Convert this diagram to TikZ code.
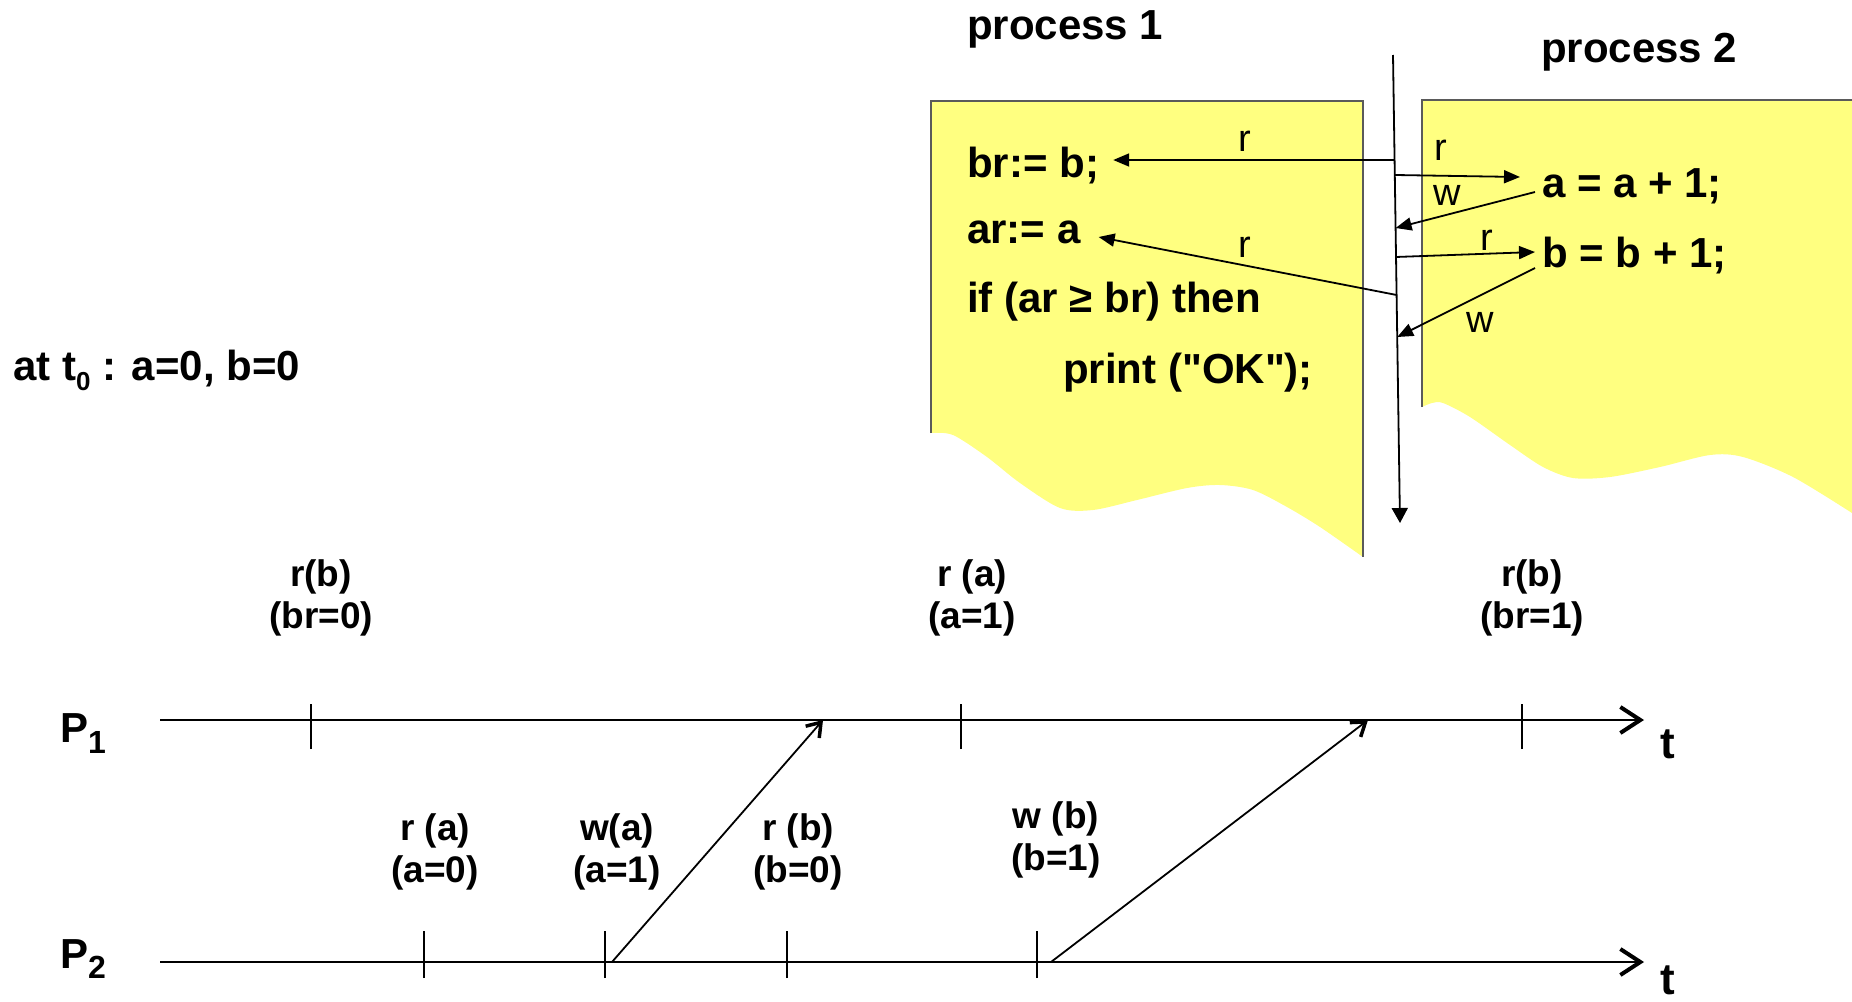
\documentclass[tikz,border=0pt]{standalone}
\usepackage{fontspec}
\setmainfont{Liberation Sans}[Ligatures=TeXOff]
\usetikzlibrary{arrows.meta,calc}

\definecolor{memo}{RGB}{255,255,128}
\definecolor{edgegrey}{RGB}{90,90,90}

\begin{document}
\begin{tikzpicture}[x=1pt,y=-1pt,
  code/.style={font=\fontsize{42}{50}\selectfont\bfseries, anchor=base west, inner sep=0pt},
  acc/.style={font=\fontsize{38}{44}\selectfont, inner sep=0pt},
  ev/.style={font=\fontsize{37}{42}\selectfont\bfseries, align=center, inner sep=0pt},
  tlabel/.style={font=\fontsize{44}{50}\selectfont\bfseries, anchor=base, inner sep=0pt},
  sheet/.style={fill=memo},
  sheetedge/.style={draw=edgegrey, line width=1.6pt},
  access/.style={line width=1.8pt, -{Triangle[length=16pt,width=13pt]}},
  timeline/.style={line width=2.6pt, -{Straight Barb[length=20pt,width=26pt,line width=4pt]}},
  tick/.style={line width=1.8pt},
  message/.style={line width=1.8pt, -{Straight Barb[length=13pt,width=18pt,line width=3.5pt]}}]
\useasboundingbox (0,0) rectangle (1852,1001);

% torn code sheets
\fill[sheet] (931,101) -- (1363,101) -- (1363,557)
  -- plot[smooth] coordinates {(1363,557) (1320,527) (1287,507) (1253,490) (1220,485)
     (1187,488) (1137,500) (1093,510) (1060,508) (1020,483) (987,457) (953,435) (931,433)}
  -- cycle;
\draw[sheetedge] (931,433) -- (931,101) -- (1363,101) -- (1363,557);
\fill[sheet] (1422,100) -- (1852,100) -- (1852,513)
  -- plot[smooth] coordinates {(1852,513) (1793,477) (1743,457) (1710,455) (1660,467)
     (1610,477) (1573,478) (1543,467) (1510,445) (1470,417) (1443,403) (1432,403) (1422,407)}
  -- cycle;
\draw[sheetedge] (1422,407) -- (1422,100) -- (1852,100);

% titles and code
\node[code] (title1) at (967,39) {process 1};
\node[code] (title2) at (1541,62) {process 2};
\node[code] (brline) at (967,177) {br:= b;};
\node[code] (arline) at (967,243) {ar:= a};
\node[code] (ifline) at (967,312) {if (ar ≥ br) then};
\node[code] (prline) at (1063,383) {print ("OK");};
\node[code] (incA) at (1542,197) {a = a + 1;};
\node[code] (incB) at (1542,267) {b = b + 1;};

% shared memory time axis
\coordinate (bustop) at (1393,55);
\coordinate (busbot) at (1400,523);
\draw[line width=1.8pt, -{Triangle[length=15pt,width=16pt]}] (bustop) -- (busbot);

% read and write accesses
\draw[access] ($(bustop)!0.2244!(busbot)$) -- ([shift={(14,-17)}]brline.base east);
\draw[access] ($(bustop)!0.2564!(busbot)$) -- ([shift={(-22,-20)}]incA.base west);
\draw[access] ([shift={(-7,-5)}]incA.base west) -- ($(bustop)!0.3697!(busbot)$);
\draw[access] ($(bustop)!0.4316!(busbot)$) -- ([shift={(-7,-15)}]incB.base west);
\draw[access] ($(bustop)!0.5128!(busbot)$) -- ([shift={(18,-6)}]arline.base east);
\draw[access] ([shift={(-7,1)}]incB.base west) -- ($(bustop)!0.6026!(busbot)$);

\node[acc] (r1) at (1245,141) {r};
\node[acc] (r2) at (1245,247) {r};
\node[acc] (r3) at (1441,150) {r};
\node[acc] (w1) at (1447,195) {w};
\node[acc] (r4) at (1487,240) {r};
\node[acc] (w2) at (1480,322) {w};

% initial state
\node[code] (init) at (13,380) {at t\raisebox{-10pt}{\fontsize{26}{30}\selectfont 0} : a=0, b=0};

% process time lines
\node[code] (P1) at (60,742) {P\raisebox{-11pt}{\fontsize{32}{34}\selectfont 1}};
\node[code] (P2) at (60,968) {P\raisebox{-10pt}{\fontsize{32}{34}\selectfont 2}};
\coordinate (p1a) at (160,720);
\coordinate (p1b) at (1644,720);
\coordinate (p2a) at (160,962);
\coordinate (p2b) at (1644,962);
\draw[timeline] (p1a) -- (p1b);
\draw[timeline] (p2a) -- (p2b);
\node[tlabel] (t1) at (1668,758) {t};
\node[tlabel] (t2) at (1668,994) {t};

% events of P1
\coordinate (e11) at (311,720);
\coordinate (e12) at (961,720);
\coordinate (e13) at (1522,720);
\foreach \e in {e11,e12,e13}
  \draw[tick] ([yshift=-29]\e) -- ([yshift=16]\e);
\node[ev] (l11) at (321,598) {r(b)\\(br=0)};
\node[ev] (l12) at (972,598) {r (a)\\(a=1)};
\node[ev] (l13) at (1532,598) {r(b)\\(br=1)};

% events of P2
\coordinate (e21) at (424,962);
\coordinate (e22) at (605,962);
\coordinate (e23) at (787,962);
\coordinate (e24) at (1037,962);
\foreach \e in {e21,e22,e23,e24}
  \draw[tick] ([yshift=-16]\e) -- ([yshift=31]\e);
\node[ev] (l21) at (435,852) {r (a)\\(a=0)};
\node[ev] (l22) at (617,852) {w(a)\\(a=1)};
\node[ev] (l23) at (798,852) {r (b)\\(b=0)};
\node[ev] (l24) at (1056,840) {w (b)\\(b=1)};

% propagation of the writes
\coordinate (rcv1) at (823,720);
\coordinate (rcv2) at (1368,720);
\draw[message] ([xshift=7]e22) -- (rcv1);
\draw[message] ([xshift=14]e24) -- (rcv2);
\end{tikzpicture}
\end{document}
